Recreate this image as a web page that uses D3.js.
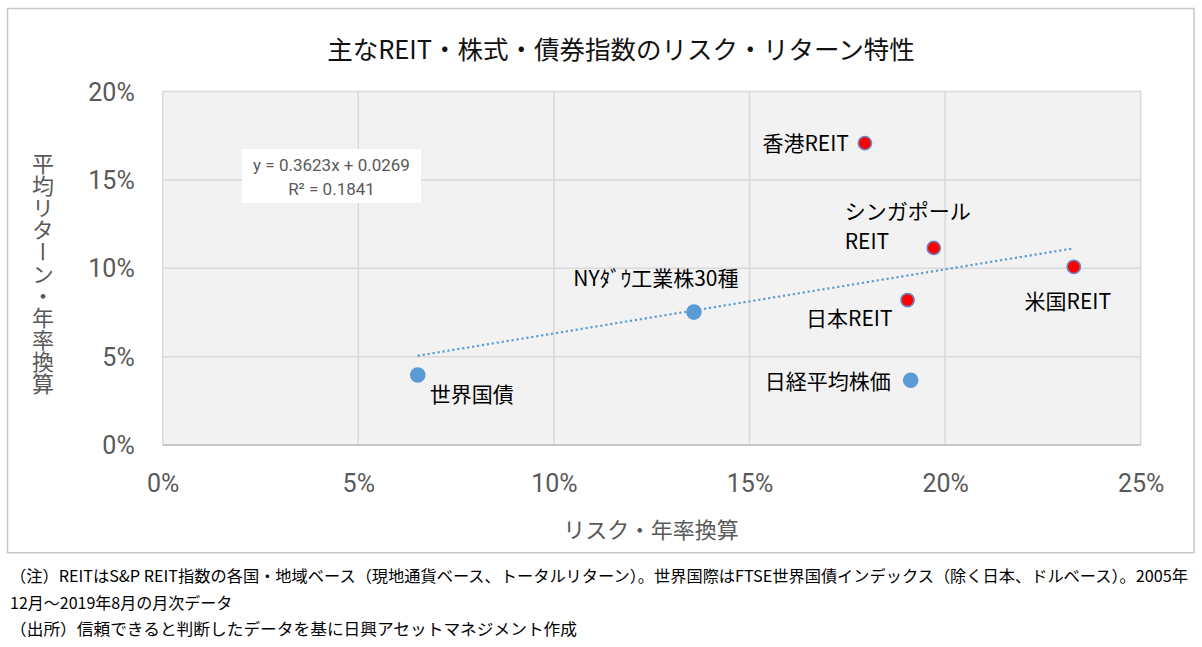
<!DOCTYPE html>
<html>
<head>
<meta charset="utf-8">
<script src="https://cdn.jsdelivr.net/npm/d3@7"></script>
<style>
  html, body { margin: 0; padding: 0; background: #fff; }
  svg { display: block; }
</style>
</head>
<body>
<svg id="chart" width="1202" height="647"></svg>
<script>
// ---- data ----
const names = ["世界国債", "NYﾀﾞｳ工業株30種", "日経平均株価", "香港REIT", "シンガポールREIT", "日本REIT", "米国REIT"];
const risk = [0.0652, 0.1358, 0.1912, 0.1795, 0.1971, 0.1904, 0.2329];   // x: risk (annualised)
const ret  = [0.0396, 0.0752, 0.0366, 0.1708, 0.1115, 0.0820, 0.1008];   // y: average return (annualised)
const group = ["index", "index", "index", "reit", "reit", "reit", "reit"];
const xTicks = [0, 0.05, 0.10, 0.15, 0.20, 0.25];
const yTicks = [0, 0.05, 0.10, 0.15, 0.20];
const trendSlope = 0.3623;
const trendIntercept = 0.0269;
const trendR2 = 0.1841;
const titleText = "主なREIT・株式・債券指数のリスク・リターン特性";
const xTitle = "リスク・年率換算";
const yTitle = "平均リターン・年率換算";
const notes = [
  "（注）REITはS&P REIT指数の各国・地域ベース（現地通貨ベース、トータルリターン）。世界国際はFTSE世界国債インデックス（除く日本、ドルベース）。2005年",
  "12月～2019年8月の月次データ",
  "（出所）信頼できると判断したデータを基に日興アセットマネジメント作成"
];

// ---- label placement (style, relative to each point) ----
const labelLayout = [
  { anchor: "start",  dx: 12,  dy: [18] },
  { anchor: "middle", dx: -38, dy: [-35] },
  { anchor: "end",    dx: -20, dy: [0] },
  { anchor: "end",    dx: -16, dy: [-1] },
  { anchor: "start",  dx: -89, dy: [-38, -8] },
  { anchor: "end",    dx: -15, dy: [17] },
  { anchor: "middle", dx: -6,  dy: [33] }
];

const svg = d3.select("#chart");
const plot = { left: 162.7, right: 1140.7, top: 91.5, bottom: 445 };

const x = d3.scaleLinear().domain([0, 0.25]).range([plot.left, plot.right]);
const y = d3.scaleLinear().domain([0, 0.20]).range([plot.bottom, plot.top]);

const CJK = "'Noto Sans CJK JP', 'Noto Sans', sans-serif";
const NUM = "Roboto, 'Noto Sans', sans-serif";

// outer chart border
svg.append("rect")
  .attr("x", 7.5).attr("y", 8.5)
  .attr("width", 1194 - 7.5).attr("height", 552.7 - 8.5)
  .attr("fill", "#fff").attr("stroke", "#C8C8C8").attr("stroke-width", 1.5);

// title
svg.append("text")
  .attr("x", 621).attr("y", 47)
  .attr("text-anchor", "middle").attr("dominant-baseline", "central")
  .attr("font-family", CJK).attr("font-size", 25.5).attr("fill", "#111")
  .text(titleText);

// plot background
svg.append("rect")
  .attr("x", plot.left).attr("y", plot.top)
  .attr("width", plot.right - plot.left).attr("height", plot.bottom - plot.top)
  .attr("fill", "#F2F2F2");

// gridlines
const grid = svg.append("g");
grid.selectAll("line.v").data(xTicks).join("line")
  .attr("class", "v")
  .attr("x1", d => x(d)).attr("x2", d => x(d))
  .attr("y1", plot.top).attr("y2", plot.bottom)
  .attr("stroke", "#D9D9D9").attr("stroke-width", 1.5);
grid.selectAll("line.h").data(yTicks).join("line")
  .attr("class", "h")
  .attr("x1", plot.left).attr("x2", plot.right)
  .attr("y1", d => y(d)).attr("y2", d => y(d))
  .attr("stroke", "#D9D9D9").attr("stroke-width", 1.5);
// bottom axis line
svg.append("line")
  .attr("x1", plot.left).attr("x2", plot.right)
  .attr("y1", plot.bottom).attr("y2", plot.bottom)
  .attr("stroke", "#BFBFBF").attr("stroke-width", 1.5);

// axes (tick labels only)
const fmt = d3.format(".0%");
const xAxis = svg.append("g")
  .attr("transform", `translate(0,${plot.bottom})`)
  .call(d3.axisBottom(x).tickValues(xTicks).tickFormat(fmt).tickSize(0).tickPadding(0));
xAxis.select(".domain").remove();
xAxis.selectAll("text")
  .attr("y", 38).attr("dy", null).attr("dominant-baseline", "central")
  .attr("font-family", NUM).attr("font-size", 25).attr("fill", "#595959");

const yAxis = svg.append("g")
  .attr("transform", `translate(${plot.left},0)`)
  .call(d3.axisLeft(y).tickValues(yTicks).tickFormat(fmt).tickSize(0).tickPadding(0));
yAxis.select(".domain").remove();
yAxis.selectAll("text")
  .attr("x", -28).attr("dy", null).attr("dominant-baseline", "central")
  .attr("font-family", NUM).attr("font-size", 25).attr("fill", "#595959");

// axis titles
svg.append("text")
  .attr("x", 651).attr("y", 528)
  .attr("text-anchor", "middle").attr("dominant-baseline", "central")
  .attr("font-family", CJK).attr("font-size", 22).attr("fill", "#595959")
  .text(xTitle);

svg.append("text")
  .attr("x", 43).attr("y", 273.5)
  .attr("text-anchor", "middle")
  .style("writing-mode", "vertical-rl")
  .style("text-orientation", "upright")
  .attr("font-family", CJK).attr("font-size", 22).attr("fill", "#595959")
  .text(yTitle);

// trendline (linear fit, drawn over the data's x-range)
const xr = d3.extent(risk);
const trendPts = xr.map(v => [v, trendSlope * v + trendIntercept]);
svg.append("path")
  .attr("d", d3.line().x(d => x(d[0])).y(d => y(d[1]))(trendPts))
  .attr("fill", "none").attr("stroke", "#5B9BD5").attr("stroke-width", 2.2)
  .attr("stroke-dasharray", "2.2,2.8");

// equation box
const eqG = svg.append("g");
eqG.append("rect")
  .attr("x", 242).attr("y", 149).attr("width", 179).attr("height", 54)
  .attr("fill", "#fff");
eqG.append("text")
  .attr("x", 331.5).attr("y", 165)
  .attr("text-anchor", "middle").attr("dominant-baseline", "central")
  .attr("font-family", NUM).attr("font-size", 17).attr("fill", "#595959")
  .text(`y = ${trendSlope}x + ${trendIntercept}`);
eqG.append("text")
  .attr("x", 331.5).attr("y", 189)
  .attr("text-anchor", "middle").attr("dominant-baseline", "central")
  .attr("font-family", NUM).attr("font-size", 17).attr("fill", "#595959")
  .text(`R² = ${trendR2}`);

// points
const pts = names.map((n, i) => ({ name: n, x: risk[i], y: ret[i], g: group[i], lay: labelLayout[i] }));
svg.append("g").selectAll("circle").data(pts).join("circle")
  .attr("cx", d => x(d.x)).attr("cy", d => y(d.y))
  .attr("r", d => d.g === "reit" ? 6.6 : 7.8)
  .attr("fill", d => d.g === "reit" ? "#FF0000" : "#5B9BD5")
  .attr("stroke", d => d.g === "reit" ? "#6C86C4" : "none")
  .attr("stroke-width", 1.6);

// data labels
const labG = svg.append("g");
pts.forEach(d => {
  const lines = d.lay.dy.length > 1 ? ["シンガポール", "REIT"] : [d.name];
  lines.forEach((ln, k) => {
    labG.append("text")
      .attr("x", x(d.x) + d.lay.dx)
      .attr("y", y(d.y) + d.lay.dy[k])
      .attr("text-anchor", d.lay.anchor)
      .attr("dominant-baseline", "central")
      .attr("font-family", CJK).attr("font-size", 21).attr("fill", "#000")
      .text(ln);
  });
});

// notes
const noteY = [575, 601.5, 628];
const noteLen = [1178, null, 567];
notes.forEach((t, i) => {
  const el = svg.append("text")
    .attr("x", 10).attr("y", noteY[i])
    .attr("dominant-baseline", "central")
    .attr("font-family", CJK).attr("font-size", 16).attr("fill", "#000")
    .text(t);
  if (noteLen[i]) el.attr("textLength", noteLen[i]).attr("lengthAdjust", "spacingAndGlyphs");
});
</script>
</body>
</html>
